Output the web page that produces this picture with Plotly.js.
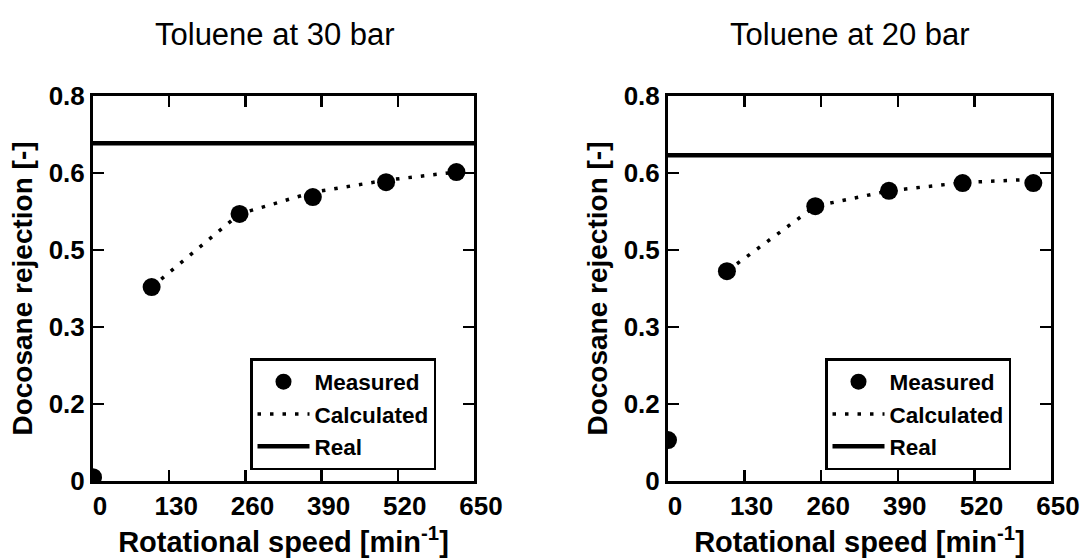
<!DOCTYPE html>
<html>
<head>
<meta charset="utf-8">
<script src="https://cdn.plot.ly/plotly-3.0.1.min.js"></script>
<style>html,body{margin:0;padding:0;background:#fff;}#chart{width:1084px;height:560px;}</style>
</head>
<body>
<div id="chart"></div>
<script>
// ---- data ----
const speedMeasured = [0, 100, 250, 375, 500, 620];
const speedCalculated = [100, 250, 375, 500, 620];

const measured30 = [0.008, 0.403, 0.555, 0.590, 0.621, 0.642];
const calculated30 = [0.403, 0.555, 0.600, 0.625, 0.642];
const real30 = 0.702;

const measured20 = [0.085, 0.436, 0.571, 0.603, 0.619, 0.619];
const calculated20 = [0.436, 0.571, 0.603, 0.620, 0.627];
const real20 = 0.677;

const xRange = [0, 650];
const yRange = [0, 0.8];
const xTickVals = [0, 130, 260, 390, 520, 650];
const xTickText = ['0', '130', '260', '390', '520', '650'];
const yTickVals = [0, 0.16, 0.32, 0.48, 0.64, 0.8];
const yTickText = ['0', '0.2', '0.3', '0.5', '0.6', '0.8'];

const panelTitles = ['Toluene at 30 bar', 'Toluene at 20 bar'];
const xTitle = 'Rotational speed [min<sup>-1</sup>]';
const yTitle = 'Docosane rejection [-]';
const seriesNames = ['Measured', 'Calculated', 'Real'];

// ---- build ----
const FONT = 'Liberation Sans, Arial, sans-serif';
function panelTraces(meas, calc, real, xa, ya, leg) {
  return [
    {x: speedMeasured, y: meas, xaxis: xa, yaxis: ya, legend: leg, name: seriesNames[0],
     mode: 'markers', type: 'scatter', marker: {color: '#000', size: 18}},
    {x: speedCalculated, y: calc, xaxis: xa, yaxis: ya, legend: leg, name: seriesNames[1],
     mode: 'lines', type: 'scatter', line: {color: '#000', width: 3.5, dash: '3.5px,9px'}},
    {x: xRange, y: [real, real], xaxis: xa, yaxis: ya, legend: leg, name: seriesNames[2],
     mode: 'lines', type: 'scatter', line: {color: '#000', width: 4.5}}
  ];
}
const data = [
  ...panelTraces(measured30, calculated30, real30, 'x', 'y', 'legend'),
  ...panelTraces(measured20, calculated20, real20, 'x2', 'y2', 'legend2')
];
function xaxisDef(domain, anchor) {
  return {domain: domain, anchor: anchor, range: xRange, tickvals: xTickVals, ticktext: xTickText,
    ticks: 'inside', ticklen: 11, tickwidth: 2.5, tickcolor: '#000',
    showline: true, linewidth: 3, linecolor: '#000', mirror: 'ticks', showgrid: false, zeroline: false,
    ticklabelshift: 7,
    tickfont: {family: FONT, size: 26, color: '#000', weight: 'bold'},
    title: {text: xTitle, standoff: 12, font: {family: FONT, size: 29, color: '#000', weight: 'bold'}}};
}
function yaxisDef(domain, anchor) {
  return {domain: domain, anchor: anchor, range: yRange, tickvals: yTickVals, ticktext: yTickText,
    ticks: 'inside', ticklen: 11, tickwidth: 2.5, tickcolor: '#000',
    showline: true, linewidth: 3, linecolor: '#000', mirror: 'ticks', showgrid: false, zeroline: false,
    tickfont: {family: FONT, size: 26, color: '#000', weight: 'bold'},
    title: {text: yTitle, standoff: 8, font: {family: FONT, size: 28, color: '#000', weight: 'bold'}}};
}
const legendStyle = (x) => ({x: x, y: 1 - 358/560, xanchor: 'left', yanchor: 'top',
  bgcolor: '#fff', bordercolor: '#000', borderwidth: 2.5, itemwidth: 52, tracegroupgap: 0,
  font: {family: FONT, size: 22.5, color: '#000', weight: 'bold'}});

const yDom = [1 - 481/560, 1 - 96/560];
const layout = {
  width: 1084, height: 560,
  margin: {l: 0, r: 0, t: 0, b: 0},
  paper_bgcolor: '#fff', plot_bgcolor: '#fff',
  showlegend: true,
  xaxis: xaxisDef([93/1084, 474/1084], 'y'),
  yaxis: yaxisDef(yDom, 'x'),
  xaxis2: xaxisDef([668/1084, 1051/1084], 'y2'),
  yaxis2: yaxisDef(yDom, 'x2'),
  legend: legendStyle(250/1084),
  legend2: legendStyle(825/1084),
  annotations: [
    {text: panelTitles[0], xref: 'paper', yref: 'paper', x: 275/1084, y: 1 - 34/560,
     showarrow: false, xanchor: 'center', yanchor: 'middle', font: {family: FONT, size: 31, color: '#000'}},
    {text: panelTitles[1], xref: 'paper', yref: 'paper', x: 850/1084, y: 1 - 34/560,
     showarrow: false, xanchor: 'center', yanchor: 'middle', font: {family: FONT, size: 31, color: '#000'}}
  ]
};
Plotly.newPlot('chart', data, layout, {displayModeBar: false, staticPlot: true});
</script>
</body>
</html>
